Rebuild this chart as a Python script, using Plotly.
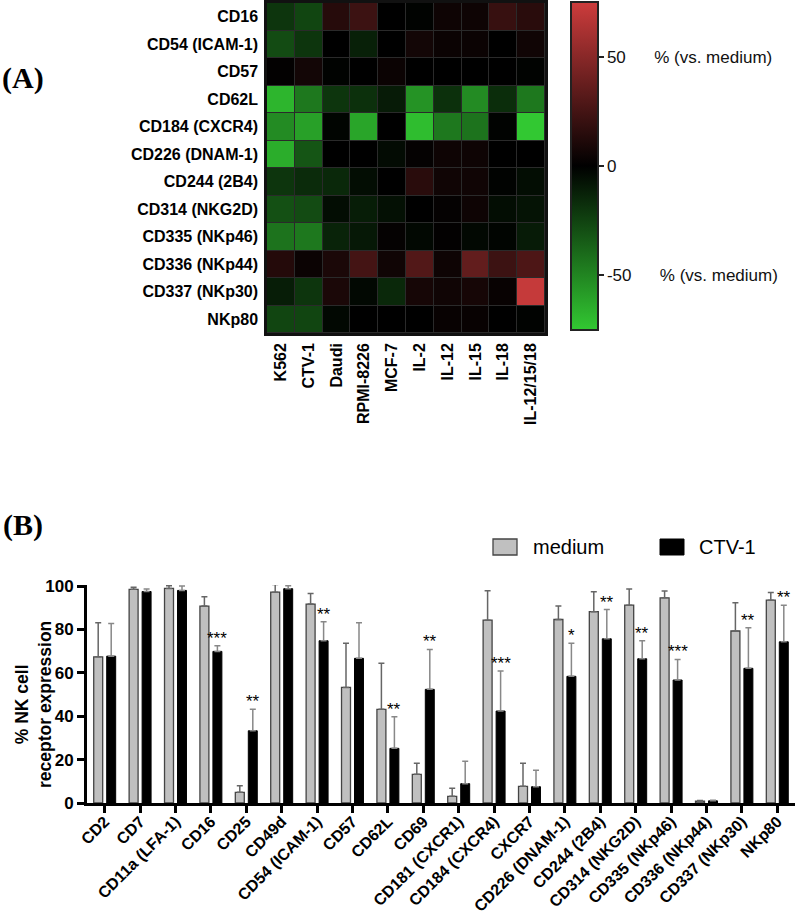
import plotly.graph_objects as go

W, H = 796, 915

# ---------------- (A) heatmap data ----------------
hm_columns = ["K562", "CTV-1", "Daudi", "RPMI-8226", "MCF-7", "IL-2", "IL-12", "IL-15", "IL-18", "IL-12/15/18"]
hm_rows = ["CD16", "CD54 (ICAM-1)", "CD57", "CD62L", "CD184 (CXCR4)", "CD226 (DNAM-1)",
           "CD244 (2B4)", "CD314 (NKG2D)", "CD335 (NKp46)", "CD336 (NKp44)", "CD337 (NKp30)", "NKp80"]
hm_CD16 = [-20, -26, 14, 22, 0, -1, 5, 5, 20, 15]
hm_CD54 = [-28, -20, 0, -12, 0, 7, 4, 4, 0, 6]
hm_CD57 = [1, 7, -1, 0, 4, 0, 0, 0, 0, -1]
hm_CD62L = [-68, -45, -20, -18, -10, -55, -18, -52, -17, -45]
hm_CD184 = [-52, -60, -2, -62, 0, -71, -45, -43, -1, -75]
hm_CD226 = [-65, -32, 0, 0, -4, 2, 5, 5, 0, 0]
hm_CD244 = [-20, -16, -15, -5, 0, 15, 6, 6, -1, -5]
hm_CD314 = [-30, -28, -5, -11, -6, 0, 2, 5, -5, -7]
hm_CD335 = [-43, -45, -13, -9, 2, -3, 1, -3, -2, -10]
hm_CD336 = [13, 4, 10, 25, 6, 30, 5, 36, 22, 28]
hm_CD337 = [-11, -20, 10, -3, -15, 8, 6, 8, 3, 72]
hm_NKp80 = [-26, -26, -3, 0, 0, 0, 3, 3, 0, -1]
hm_z = [hm_CD16, hm_CD54, hm_CD57, hm_CD62L, hm_CD184, hm_CD226,
        hm_CD244, hm_CD314, hm_CD335, hm_CD336, hm_CD337, hm_NKp80]
cb_tickvals = [50, 0, -50]
cb_ticktext = ["50\u00a0\u00a0\u00a0\u00a0\u00a0\u00a0% (vs. medium)", "0",
               "-50\u00a0\u00a0\u00a0\u00a0\u00a0\u00a0% (vs. medium)"]

# ---------------- (B) bar chart data ----------------
receptors = ["CD2", "CD7", "CD11a (LFA-1)", "CD16", "CD25", "CD49d", "CD54 (ICAM-1)", "CD57",
             "CD62L", "CD69", "CD181 (CXCR1)", "CD184 (CXCR4)", "CXCR7", "CD226 (DNAM-1)",
             "CD244 (2B4)", "CD314 (NKG2D)", "CD335 (NKp46)", "CD336 (NKp44)", "CD337 (NKp30)", "NKp80"]
medium_vals = [67.4, 98.5, 98.9, 90.8, 4.9, 97.2, 91.7, 53.3, 43.2, 13.2,
               3.1, 84.3, 7.7, 84.6, 88.2, 91.2, 94.6, 0.8, 79.3, 93.5]
medium_err = [15.7, 1.0, 1.2, 4.3, 3.0, 3.5, 4.9, 20.3, 21.2, 5.1,
              3.7, 13.5, 10.6, 6.2, 9.2, 7.4, 3.1, 0.3, 13.0, 3.6]
ctv1_vals = [67.7, 97.5, 98.0, 69.9, 33.3, 98.8, 74.8, 66.7, 25.2, 52.4,
             8.9, 42.4, 7.5, 58.4, 75.7, 66.5, 56.7, 1.0, 62.1, 74.3]
ctv1_err = [15.0, 1.1, 2.0, 2.6, 9.9, 1.4, 8.8, 16.4, 14.6, 18.4,
            10.3, 18.4, 7.6, 15.2, 13.5, 8.3, 9.5, 0.3, 18.7, 16.9]
significance = ["", "", "", "***", "**", "", "**", "", "**", "**",
                "", "***", "", "*", "**", "**", "***", "", "**", "**"]
y_ticks = [0, 20, 40, 60, 80, 100]

FONT = "Liberation Sans, Arial, sans-serif"
SERIF = "Liberation Serif, Times New Roman, serif"


def px_x(p):
    return p / W


def px_y(p):
    return 1 - p / H


fig = go.Figure()

fig.add_trace(go.Heatmap(
    z=hm_z, x=hm_columns, y=hm_rows,
    zmin=-75, zmax=75,
    colorscale=[[0.0, "rgb(50,200,50)"], [0.5, "rgb(0,0,0)"], [1.0, "rgb(205,60,60)"]],
    xgap=1, ygap=1,
    xaxis="x", yaxis="y",
    colorbar=dict(
        x=px_x(571), xanchor="left", xpad=0, ypad=0,
        y=px_y(166), yanchor="middle", len=328 / H, lenmode="fraction",
        thickness=27, thicknessmode="pixels",
        outlinewidth=2, outlinecolor="#222",
        tickvals=cb_tickvals, ticktext=cb_ticktext,
        ticks="outside", ticklen=5, tickwidth=1.5, tickcolor="#222",
        tickfont=dict(family=FONT, size=17, color="#111"),
    ),
    hoverongaps=False,
))

fig.add_trace(go.Bar(
    x=receptors, y=medium_vals, name="medium",
    marker=dict(color="#c0c0c0", line=dict(color="#444", width=1.3)),
    error_y=dict(type="data", array=medium_err, symmetric=False,
                 arrayminus=[0] * len(medium_err), color="#666", thickness=1.5, width=3),
    xaxis="x2", yaxis="y2", showlegend=False,
))
fig.add_trace(go.Bar(
    x=receptors, y=ctv1_vals, name="CTV-1",
    marker=dict(color="#000", line=dict(color="#000", width=1)),
    error_y=dict(type="data", array=ctv1_err, symmetric=False,
                 arrayminus=[0] * len(ctv1_err), color="#888", thickness=1.5, width=3),
    xaxis="x2", yaxis="y2", showlegend=False,
))

annotations = []
for r, s, v, e in zip(receptors, significance, ctv1_vals, ctv1_err):
    if s:
        annotations.append(dict(
            x=r, y=v + e, xref="x2", yref="y2", text=s, showarrow=False,
            xshift=6.5, yshift=-4, xanchor="center", yanchor="bottom",
            font=dict(family=FONT, size=17, color="#000"),
        ))

annotations += [
    dict(x=px_x(23), y=px_y(78), xref="paper", yref="paper", text="<b>(A)</b>",
         xanchor="center", yanchor="middle",
         showarrow=False, font=dict(family=SERIF, size=30, color="#000")),
    dict(x=px_x(23), y=px_y(525), xref="paper", yref="paper", text="<b>(B)</b>",
         xanchor="center", yanchor="middle",
         showarrow=False, font=dict(family=SERIF, size=30, color="#000")),
    dict(x=px_x(33), y=px_y(705), xref="paper", yref="paper",
         text="<b>% NK cell<br>receptor expression</b>", textangle=-90,
         xanchor="center", yanchor="middle",
         showarrow=False, font=dict(family=FONT, size=17.5, color="#000")),
    dict(x=px_x(531), y=px_y(547), xref="paper", yref="paper", text="medium",
         xanchor="left", yanchor="middle", showarrow=False,
         font=dict(family=FONT, size=20, color="#000")),
    dict(x=px_x(697), y=px_y(547), xref="paper", yref="paper", text="CTV-1",
         xanchor="left", yanchor="middle", showarrow=False,
         font=dict(family=FONT, size=20, color="#000")),
]

shapes = [
    # dark background behind the heatmap cells (shows as thin grid lines)
    dict(type="rect", xref="x domain", yref="y domain", x0=0, x1=1, y0=0, y1=1,
         fillcolor="#2a2a2a", line=dict(width=0), layer="below"),
    # legend keys
    dict(type="rect", xref="paper", yref="paper",
         x0=px_x(493), x1=px_x(517), y0=px_y(555), y1=px_y(539),
         fillcolor="#c0c0c0", line=dict(color="#444", width=1.3)),
    dict(type="rect", xref="paper", yref="paper",
         x0=px_x(660), x1=px_x(684), y0=px_y(555), y1=px_y(539),
         fillcolor="#000", line=dict(color="#000", width=1)),
]

fig.update_layout(
    width=W, height=H,
    margin=dict(l=0, r=0, t=0, b=0, pad=0, autoexpand=False),
    paper_bgcolor="white", plot_bgcolor="white",
    barmode="group", bargap=0.266, bargroupgap=0.31,
    font=dict(family=FONT, color="#000"),
    xaxis=dict(
        domain=[px_x(267), px_x(545)], anchor="y", automargin=False,
        tickangle=-90, tickfont=dict(family=FONT, size=16, weight="bold", color="#000"),
        showline=True, mirror=True, linecolor="#111", linewidth=2.5,
        ticks="", showgrid=False, zeroline=False, ticklabelstandoff=1,
    ),
    yaxis=dict(
        domain=[px_y(333), px_y(3)], anchor="x", automargin=False,
        autorange="reversed",
        tickfont=dict(family=FONT, size=16, weight="bold", color="#000"),
        showline=True, mirror=True, linecolor="#111", linewidth=2.5,
        ticks="", showgrid=False, zeroline=False, ticklabelstandoff=3,
    ),
    xaxis2=dict(
        domain=[px_x(87), px_x(795)], anchor="y2", automargin=False,
        range=[-0.5, len(receptors) - 0.5],
        tickangle=-45, tickfont=dict(family=FONT, size=16, weight="bold", color="#000"),
        showline=True, linecolor="#000", linewidth=3,
        ticks="outside", ticklen=7, tickwidth=3, tickcolor="#000",
        showgrid=False, zeroline=False, ticklabelstandoff=-7,
    ),
    yaxis2=dict(
        domain=[px_y(803), px_y(585)], anchor="x2", automargin=False,
        range=[0, 100.5], tickvals=y_ticks,
        tickfont=dict(family=FONT, size=17, weight="bold", color="#000"),
        showline=True, linecolor="#000", linewidth=3,
        ticks="outside", ticklen=7, tickwidth=3, tickcolor="#000",
        showgrid=False, zeroline=False,
    ),
    annotations=annotations,
    shapes=shapes,
)

fig.write_html("out.html", config={"displayModeBar": False},
               post_script="document.body.style.margin='0';document.body.style.overflow='hidden';")
